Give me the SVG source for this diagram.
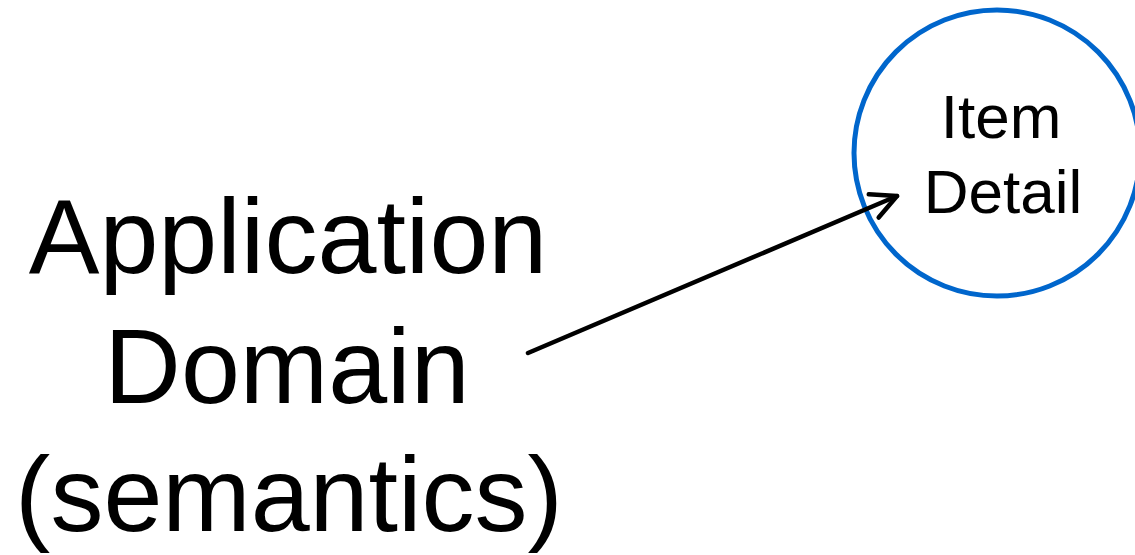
<svg xmlns="http://www.w3.org/2000/svg" width="1135" height="555" viewBox="0 0 1135 555">
  <style>
    .big { font-family: "Liberation Sans", Arial, sans-serif; font-size: 106px; fill: #000; text-anchor: middle; }
    .small { font-family: "Liberation Sans", Arial, sans-serif; font-size: 62px; fill: #000; text-anchor: middle; }
    .conn { stroke: #000; stroke-width: 4.5; fill: none; stroke-linecap: round; }
  </style>
  <defs>
    <marker id="open" viewBox="0 0 12 12" refX="10.5" refY="6" markerWidth="7.5" markerHeight="7.5" orient="auto" markerUnits="strokeWidth">
      <path d="M1.5,1.5 L10.5,6 L1.5,10.5" fill="none" stroke="#000" stroke-width="1.6" stroke-linecap="round" stroke-linejoin="round"/>
    </marker>
  </defs>
  <rect width="1135" height="555" fill="#fff"/>
  <g id="application-domain">
    <text class="big" x="288" y="273">Application</text>
    <text class="big" x="287" y="403">Domain</text>
    <text class="big" x="289" y="531">(semantics)</text>
  </g>
  <g id="item-detail">
    <circle cx="997" cy="153" r="143" fill="#fff" stroke="#0066CC" stroke-width="5"/>
    <text class="small" x="1001" y="138">Item</text>
    <text class="small" x="1003" y="213">Detail</text>
  </g>
  <g id="connectors">
    <line class="conn" x1="528" y1="353" x2="897" y2="196" marker-end="url(#open)"/>
  </g>
</svg>
